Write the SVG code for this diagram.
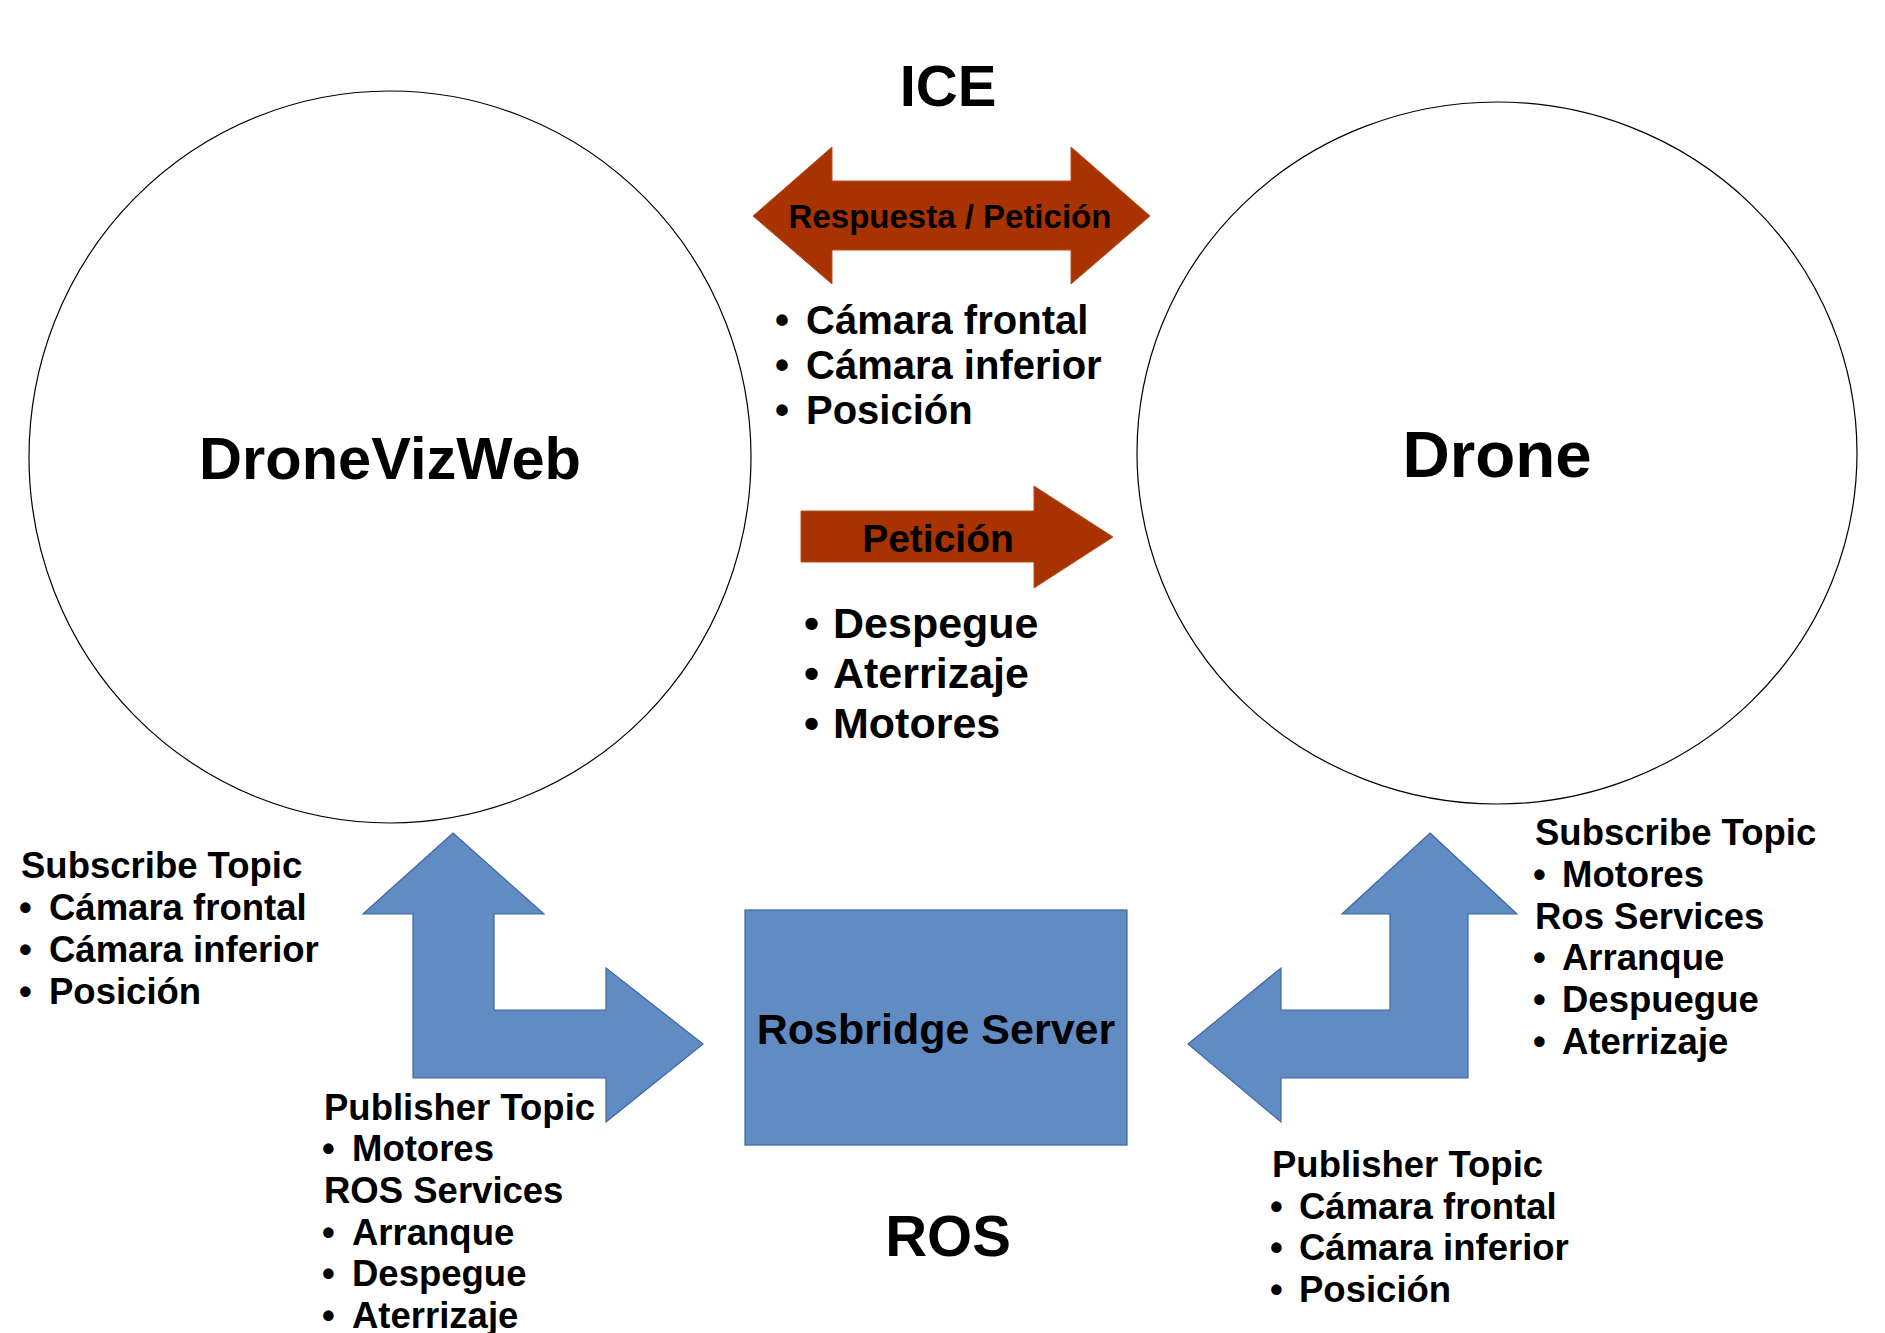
<svg xmlns="http://www.w3.org/2000/svg" width="1885" height="1333" viewBox="0 0 1885 1333">
<style>
  text { font-family: "Liberation Sans", Arial, sans-serif; font-weight: bold; fill: #000; }
  .circle { fill: #fff; stroke: #000; stroke-width: 1.2; }
  .red { fill: #a83300; stroke: #b8501f; stroke-width: 1; }
  .blue { fill: #618bc3; stroke: #3f67a3; stroke-width: 1.2; }
  .list36 { font-size: 36.5px; }
  .list40 { font-size: 40px; }
  .list43 { font-size: 43px; }
</style>
<rect x="0" y="0" width="1885" height="1333" fill="#fff"/>

<g id="node-dronevizweb">
  <ellipse class="circle" cx="390" cy="457" rx="361" ry="366"/>
  <text x="390" y="479" font-size="59.6" text-anchor="middle">DroneVizWeb</text>
</g>

<g id="node-drone">
  <ellipse class="circle" cx="1497" cy="453" rx="360" ry="351"/>
  <text x="1497" y="477" font-size="65.5" text-anchor="middle">Drone</text>
</g>

<g id="node-rosbridge">
  <rect class="blue" x="745" y="910" width="382" height="235"/>
  <text x="936" y="1044" font-size="43" text-anchor="middle">Rosbridge Server</text>
</g>

<g id="connectors">
  <polygon class="red" points="753,216 832,147 832,181 1071,181 1071,147 1150,216 1071,284 1071,250 832,250 832,284"/>
  <polygon class="red" points="801,511 1034,511 1034,486 1113,537 1034,588 1034,562 801,562"/>
  <polygon class="blue" points="453,833 544,914 494,914 494,1010 606,1010 606,968 703,1044 606,1122 606,1078 413,1078 413,914 363,914"/>
  <polygon class="blue" points="1430,833 1517,914 1468,914 1468,1078 1281,1078 1281,1122 1188,1044 1281,968 1281,1010 1390,1010 1390,914 1342,914"/>
  <text x="950" y="228" font-size="33" text-anchor="middle">Respuesta / Petición</text>
  <text x="938" y="552" font-size="39" text-anchor="middle">Petición</text>
</g>

<g id="label-ice">
  <text x="948" y="106" font-size="58" text-anchor="middle">ICE</text>
</g>

<g id="label-ros">
  <text x="948" y="1256" font-size="58" text-anchor="middle">ROS</text>
</g>

<g id="list-ice" class="list40">
  <text><tspan x="775" y="334">•</tspan><tspan x="806" y="334">Cámara frontal</tspan></text>
  <text><tspan x="775" y="379">•</tspan><tspan x="806" y="379">Cámara inferior</tspan></text>
  <text><tspan x="775" y="424">•</tspan><tspan x="806" y="424">Posición</tspan></text>
</g>

<g id="list-peticion" class="list43">
  <text><tspan x="804" y="638">•</tspan><tspan x="833" y="638">Despegue</tspan></text>
  <text><tspan x="804" y="688">•</tspan><tspan x="833" y="688">Aterrizaje</tspan></text>
  <text><tspan x="804" y="738">•</tspan><tspan x="833" y="738">Motores</tspan></text>
</g>

<g id="list-left-subscribe" class="list36">
  <text x="21" y="878">Subscribe Topic</text>
  <text><tspan x="19" y="920">•</tspan><tspan x="49" y="920">Cámara frontal</tspan></text>
  <text><tspan x="19" y="962">•</tspan><tspan x="49" y="962">Cámara inferior</tspan></text>
  <text><tspan x="19" y="1004">•</tspan><tspan x="49" y="1004">Posición</tspan></text>
</g>

<g id="list-left-publisher" class="list36">
  <text x="324" y="1120">Publisher Topic</text>
  <text><tspan x="322" y="1161">•</tspan><tspan x="352" y="1161">Motores</tspan></text>
  <text x="324" y="1203">ROS Services</text>
  <text><tspan x="322" y="1245">•</tspan><tspan x="352" y="1245">Arranque</tspan></text>
  <text><tspan x="322" y="1286">•</tspan><tspan x="352" y="1286">Despegue</tspan></text>
  <text><tspan x="322" y="1328">•</tspan><tspan x="352" y="1328">Aterrizaje</tspan></text>
</g>

<g id="list-right-subscribe" class="list36">
  <text x="1535" y="845">Subscribe Topic</text>
  <text><tspan x="1533" y="887">•</tspan><tspan x="1562" y="887">Motores</tspan></text>
  <text x="1535" y="929">Ros Services</text>
  <text><tspan x="1533" y="970">•</tspan><tspan x="1562" y="970">Arranque</tspan></text>
  <text><tspan x="1533" y="1012">•</tspan><tspan x="1562" y="1012">Despuegue</tspan></text>
  <text><tspan x="1533" y="1054">•</tspan><tspan x="1562" y="1054">Aterrizaje</tspan></text>
</g>

<g id="list-right-publisher" class="list36">
  <text x="1272" y="1177">Publisher Topic</text>
  <text><tspan x="1270" y="1219">•</tspan><tspan x="1299" y="1219">Cámara frontal</tspan></text>
  <text><tspan x="1270" y="1260">•</tspan><tspan x="1299" y="1260">Cámara inferior</tspan></text>
  <text><tspan x="1270" y="1302">•</tspan><tspan x="1299" y="1302">Posición</tspan></text>
</g>
</svg>
